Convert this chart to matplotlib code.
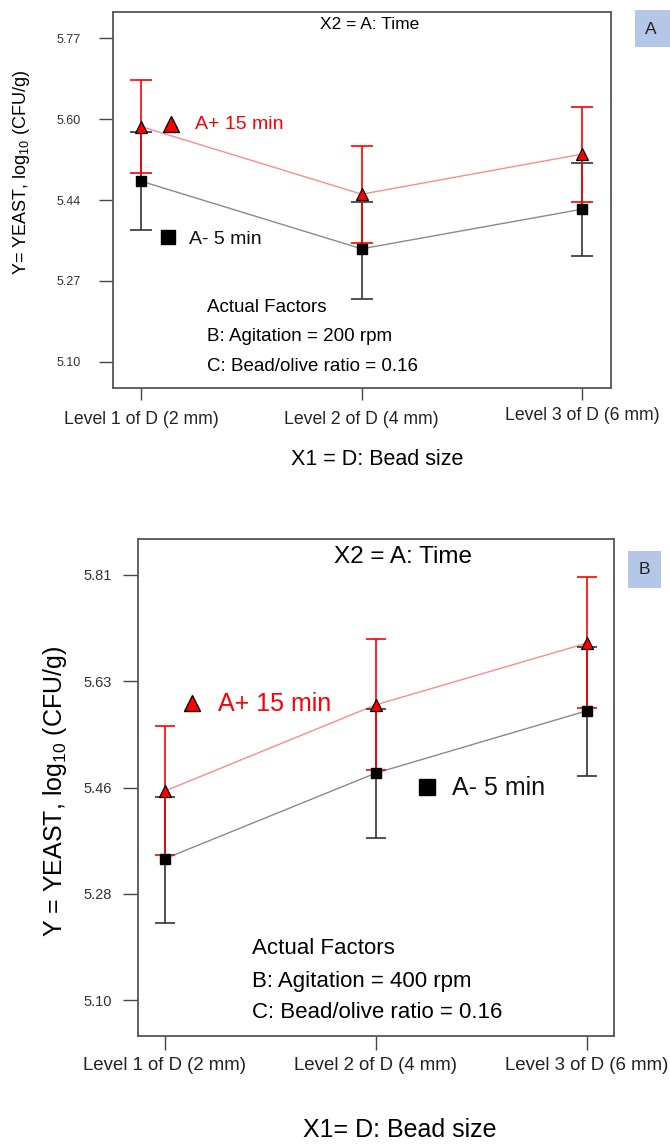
import matplotlib
matplotlib.use("Agg")
import matplotlib.pyplot as plt
import numpy as np
from matplotlib.patches import Rectangle
from matplotlib.transforms import ScaledTranslation

plt.rcParams['font.family'] = ['Liberation Sans', 'DejaVu Sans']
plt.rcParams['mathtext.fontset'] = 'custom'
plt.rcParams['mathtext.rm'] = 'Liberation Sans'

# ---------------- data ----------------
levels = ["Level 1 of D (2 mm)", "Level 2 of D (4 mm)", "Level 3 of D (6 mm)"]
x_pos = [1, 2, 3]

# Panel A (Agitation = 200 rpm)
a_plus_mean = [5.587, 5.447, 5.530]
a_plus_hi = [5.683, 5.547, 5.627]
a_plus_lo = [5.491, 5.346, 5.431]
a_minus_mean = [5.474, 5.334, 5.416]
a_minus_hi = [5.575, 5.431, 5.512]
a_minus_lo = [5.373, 5.231, 5.319]
a_yticks = [5.10, 5.2675, 5.435, 5.6025, 5.77]
a_ytick_labels = ["5.10", "5.27", "5.44", "5.60", "5.77"]

# Panel B (Agitation = 400 rpm)
b_plus_mean = [5.449, 5.593, 5.696]
b_plus_hi = [5.557, 5.703, 5.807]
b_plus_lo = [5.343, 5.485, 5.588]
b_minus_mean = [5.336, 5.479, 5.583]
b_minus_hi = [5.439, 5.586, 5.689]
b_minus_lo = [5.228, 5.370, 5.474]
b_yticks = [5.10, 5.2775, 5.455, 5.6325, 5.81]
b_ytick_labels = ["5.10", "5.28", "5.46", "5.63", "5.81"]

RED = "#ff0000"
LRED = "#ff8a8a"
GRAY = "#8a8a8a"
DARK = "#333333"

fig = plt.figure(figsize=(6.7, 11.46), dpi=100)

axA = fig.add_axes([113/670, 1-388/1146, 498/670, 376/1146])
axB = fig.add_axes([138/670, 1-1036/1146, 476/670, 497/1146])


def draw(ax, pm, ph, pl, mm, mh, ml, yticks, ylabels, ylim, p):
    # connecting lines
    ax.plot(x_pos, mm, color=GRAY, lw=1.0, zorder=2)
    ax.plot(x_pos, pm, color=LRED, lw=1.0, zorder=2)
    # error bars (black first, red on top)
    mm_a = np.array(mm); pm_a = np.array(pm)
    ax.errorbar(x_pos, mm, yerr=[mm_a-np.array(ml), np.array(mh)-mm_a], fmt='none',
                ecolor=DARK, elinewidth=1.2, capsize=p['cap'], capthick=1.2, zorder=3)
    ax.errorbar(x_pos, pm, yerr=[pm_a-np.array(pl), np.array(ph)-pm_a], fmt='none',
                ecolor=RED, elinewidth=1.2, capsize=p['cap'], capthick=1.2, zorder=4)
    # markers
    ax.plot(x_pos, mm, ls='none', marker='s', ms=p['sq'], mfc='black', mec='black', zorder=5)
    ax.plot(x_pos, pm, ls='none', marker='^', ms=p['tri'], mfc=RED, mec='black', mew=0.9, zorder=6)

    ax.set_xlim(0.873, 3.13)
    ax.set_ylim(*ylim)
    ax.set_xticks(x_pos)
    ax.set_xticklabels(levels, fontsize=p['xtfs'])
    ax.set_yticks(yticks)
    ax.set_yticklabels(ylabels, fontsize=p['ytfs'], color='#333333')
    ax.tick_params(axis='y', length=p['ytl'], width=1.0, color='#444444', pad=p['ypad'])
    ax.tick_params(axis='x', length=p['xtl'], width=1.0, color='#444444', pad=p['xpad'], colors='#222222')
    for s in ax.spines.values():
        s.set_color('#555555')
        s.set_linewidth(1.3)


draw(axA, a_plus_mean, a_plus_hi, a_plus_lo, a_minus_mean, a_minus_hi, a_minus_lo,
     a_yticks, a_ytick_labels, (5.046, 5.824),
     dict(cap=8, sq=6.5, tri=8.5, xtfs=12.7, ytfs=9, ytl=10, ypad=13, xtl=8.5, xpad=8))
draw(axB, b_plus_mean, b_plus_hi, b_plus_lo, b_minus_mean, b_minus_hi, b_minus_lo,
     b_yticks, b_ytick_labels, (5.040, 5.870),
     dict(cap=7.5, sq=6.5, tri=8.5, xtfs=13.4, ytfs=10.5, ytl=11, ypad=8, xtl=10, xpad=5))

# In panel A the third level label sits slightly higher
lab3 = axA.get_xticklabels()[2]
lab3.set_transform(lab3.get_transform() + ScaledTranslation(0, 4/100, fig.dpi_scale_trans))

# Panel A texts
axA.text(0.515, 0.968, "X2 = A: Time", transform=axA.transAxes, ha='center', va='center', fontsize=12.5)
axA.plot([0.1165], [0.702], transform=axA.transAxes, marker='^', ms=12, mfc=RED, mec='black', mew=1.0, clip_on=False)
axA.text(0.1647, 0.700, "A+ 15 min", transform=axA.transAxes, ha='left', va='center', fontsize=14, color=RED)
axA.plot([0.110], [0.4016], transform=axA.transAxes, marker='s', ms=10.5, mfc='black', mec='black', clip_on=False)
axA.text(0.1526, 0.394, "A- 5 min", transform=axA.transAxes, ha='left', va='center', fontsize=14, color='#111111')
axA.text(0.189, 0.2154, "Actual Factors", transform=axA.transAxes, ha='left', va='center', fontsize=13.5)
axA.text(0.189, 0.138, "B: Agitation = 200 rpm", transform=axA.transAxes, ha='left', va='center', fontsize=13.5)
axA.text(0.189, 0.0559, "C: Bead/olive ratio = 0.16", transform=axA.transAxes, ha='left', va='center', fontsize=13.5)

# Panel B texts
axB.text(0.557, 0.964, "X2 = A: Time", transform=axB.transAxes, ha='center', va='center', fontsize=17.5)
axB.plot([0.1128], [0.6706], transform=axB.transAxes, marker='^', ms=12, mfc=RED, mec='black', mew=1.0, clip_on=False)
axB.text(0.168, 0.668, "A+ 15 min", transform=axB.transAxes, ha='left', va='center', fontsize=18, color=RED)
axB.plot([0.6065], [0.5016], transform=axB.transAxes, marker='s', ms=11, mfc='black', mec='black', clip_on=False)
axB.text(0.659, 0.498, "A- 5 min", transform=axB.transAxes, ha='left', va='center', fontsize=18, color='#111111')
axB.text(0.239, 0.177, "Actual Factors", transform=axB.transAxes, ha='left', va='center', fontsize=16)
axB.text(0.239, 0.1087, "B: Agitation = 400 rpm", transform=axB.transAxes, ha='left', va='center', fontsize=16)
axB.text(0.239, 0.0463, "C: Bead/olive ratio = 0.16", transform=axB.transAxes, ha='left', va='center', fontsize=16)

# axis titles
fig.text(22/670, 1-172/1146, r"Y= YEAST, log$_{\mathrm{10}}$ (CFU/g)", rotation=90,
         ha='center', va='center', fontsize=13)
fig.text(377/670, 1-460/1146, "X1 = D: Bead size", ha='center', va='center', fontsize=15.5)
fig.text(55/670, 1-791/1146, r"Y = YEAST, log$_{\mathrm{10}}$ (CFU/g)", rotation=90,
         ha='center', va='center', fontsize=18)
fig.text(400/670, 1-1130/1146, "X1= D: Bead size", ha='center', va='center', fontsize=18)

# panel tags
BOX = "#b4c7e7"
fig.patches.append(Rectangle((635/670, 1-47/1146), 40/670, 37/1146, transform=fig.transFigure,
                             facecolor=BOX, edgecolor='none'))
fig.text(651/670, 1-29/1146, "A", ha='center', va='center', fontsize=12.5, color='#222222')
fig.patches.append(Rectangle((628/670, 1-588/1146), 33/670, 37/1146, transform=fig.transFigure,
                             facecolor=BOX, edgecolor='none'))
fig.text(644/670, 1-569/1146, "B", ha='center', va='center', fontsize=12.5, color='#222222')

fig.savefig("out.png", dpi=100)
